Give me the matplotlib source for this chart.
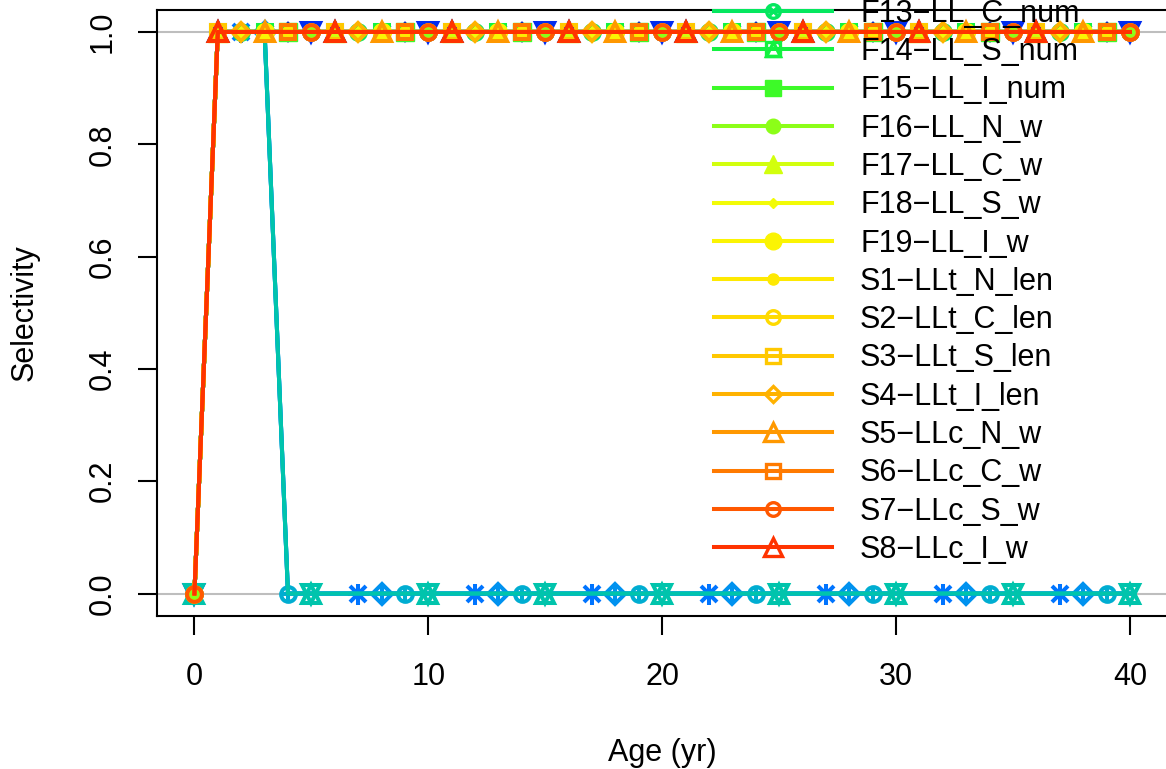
import numpy as np
import matplotlib.pyplot as plt
from matplotlib.lines import Line2D
from matplotlib.ticker import FormatStrFormatter

plt.rcParams['font.family'] = ['Liberation Sans', 'DejaVu Sans']

# ---- data ----
ages = list(range(0, 41))

fleet_names = ["F1", "F2", "F3", "F4", "F5", "F6", "F7", "F8", "F9", "F10", "F11", "F12",
               "F13-LL_C_num", "F14-LL_S_num", "F15-LL_I_num", "F16-LL_N_w",
               "F17-LL_C_w", "F18-LL_S_w", "F19-LL_I_w",
               "S1-LLt_N_len", "S2-LLt_C_len", "S3-LLt_S_len", "S4-LLt_I_len",
               "S5-LLc_N_w", "S6-LLc_C_w", "S7-LLc_S_w", "S8-LLc_I_w"]

# selectivity at age: most fleets fully selected from age 1
sel_full = [0.0] + [1.0] * 40
# fleets 8-11 only select ages 1-3
sel_young = [0.0, 1.0, 1.0, 1.0] + [0.0] * 37
young_fleets = [8, 9, 10, 11]

first_legend_fleet = 13   # entries above this are off the top of the figure


def rich_colors_short(n):
    x = np.linspace(0, 1, n)
    r = 1 / (1 + np.exp(20 - 35 * x))
    g = np.clip(-0.8 + 6 * x - 5 * x ** 2, 0, 1)
    b = np.exp(-0.5 * ((x - 0.25) / 0.15) ** 2)
    b = b / b.max()
    return [(r[k], g[k], b[k]) for k in range(n)]


# R pch -> list of (marker, size, kind)
PCH = {
    0: [('s', 9.8, 'open')],
    1: [('o', 9.8, 'open')],
    2: [('^', 12.5, 'open')],
    3: [('+', 12, 'line')],
    4: [('x', 10, 'line')],
    5: [('D', 8, 'open')],
    6: [('v', 11.5, 'open')],
    7: [('s', 9.8, 'open'), ('x', 9.8, 'line')],
    8: [('+', 14, 'line'), ('x', 10.5, 'line')],
    9: [('D', 9, 'open'), ('+', 12.5, 'line')],
    10: [('o', 9.8, 'open'), ('+', 9.8, 'line')],
    11: [('^', 12.5, 'open'), ('v', 12.5, 'open')],
    12: [('s', 9.8, 'open'), ('+', 9.8, 'line')],
    13: [('o', 9.8, 'open'), ('x', 7, 'line')],
    14: [('s', 9.8, 'open'), ('^', 9.8, 'open')],
    15: [('s', 11.5, 'fill')],
    16: [('o', 10.5, 'fill')],
    17: [('^', 13, 'fill')],
    18: [('D', 5.5, 'fill')],
    19: [('o', 12, 'fill')],
    20: [('o', 8, 'fill')],
    21: [('o', 9.8, 'open')],
    22: [('s', 9.8, 'open')],
    23: [('D', 8.5, 'open')],
    24: [('^', 12.5, 'open')],
    25: [('v', 12.5, 'open')],
}


def marker_kw(marker, size, kind, color, scale=1.0, ew=2.4):
    kw = dict(marker=marker, markersize=size * scale, markeredgewidth=ew, markeredgecolor=color)
    if kind == 'fill':
        kw['markerfacecolor'] = color
        kw['markeredgewidth'] = 1.0
    else:
        kw['markerfacecolor'] = 'none'
    return kw


n = len(fleet_names)
colors = rich_colors_short(n)

fig = plt.figure(figsize=(11.66, 7.69), dpi=100)
ax = fig.add_axes([157 / 1166, (769 - 616) / 769, (1167.4 - 157) / 1166, (616 - 9.5) / 769])

ax.axhline(0, color='#BEBEBE', lw=1.5, zorder=1)
ax.axhline(1, color='#BEBEBE', lw=1.5, zorder=1)

handles = []
labels = []
for i, name in enumerate(fleet_names):
    fleet = i + 1
    y = sel_young if fleet in young_fleets else sel_full
    col = colors[i]
    pch = fleet % 25
    every = [k for k, a in enumerate(ages) if a % 5 == i % 5]
    parts = PCH[pch]
    ax.plot(ages, y, color=col, lw=2.9)
    for m, s, kind in parts:
        ax.plot(ages, y, ls='none', markevery=every,
                **marker_kw(m, s, kind, col, scale=1.08, ew=2.9))
    if fleet >= first_legend_fleet:
        h = [Line2D([], [], color=col, lw=2.9, **marker_kw(parts[0][0], parts[0][1], parts[0][2], col))]
        for m, s, kind in parts[1:]:
            h.append(Line2D([], [], ls='none', **marker_kw(m, s, kind, col)))
        handles.append(tuple(h))
        labels.append(name.replace('-', '\u2212'))

ax.set_xlim(-1.6, 41.6)
ax.set_ylim(-0.04, 1.04)
ax.set_xticks([0, 10, 20, 30, 40])
ax.set_yticks([0.0, 0.2, 0.4, 0.6, 0.8, 1.0])
ax.yaxis.set_major_formatter(FormatStrFormatter('%.1f'))
ax.tick_params(direction='out', length=14, width=1.5, labelsize=22, pad=14)
ax.tick_params(axis='x', pad=19)
ax.tick_params(axis='y', labelrotation=90)
for t in ax.get_yticklabels():
    t.set_va('center')
for sp in ax.spines.values():
    sp.set_linewidth(1.5)

ax.set_xlabel('Age (yr)', fontsize=22)
ax.set_ylabel('Selectivity', fontsize=22)
ax.xaxis.set_label_coords(0.5, (616 - 753) / 606.5)
ax.xaxis.label.set_va('center')
ax.yaxis.set_label_coords((25 - 157) / 1010.4, 0.5)
ax.yaxis.label.set_va('center')
ax.yaxis.label.set_ha('center')

ax.legend(handles, labels, loc='lower left',
          bbox_to_anchor=(714 / 1166, (769 - 565) / 769), bbox_transform=fig.transFigure,
          frameon=False, fontsize=22, handlelength=3.86, handletextpad=0.92,
          labelspacing=0.272, borderpad=0, borderaxespad=0)

fig.savefig('out.png', dpi=100)
